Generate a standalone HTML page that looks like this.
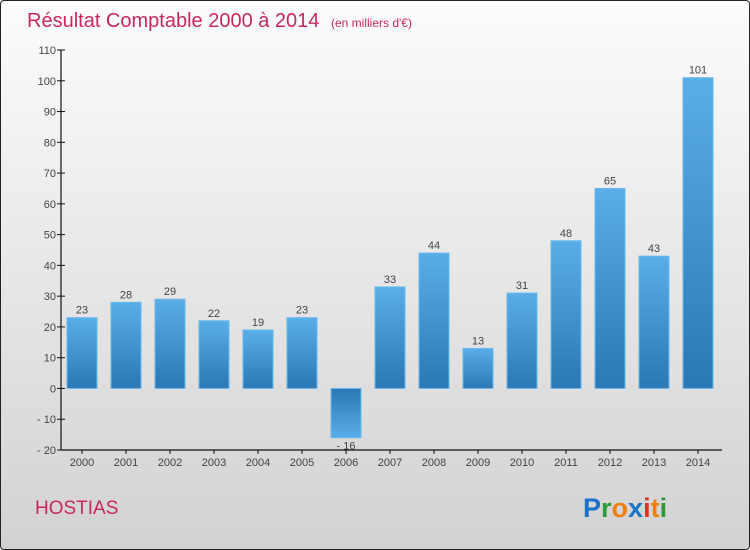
<!DOCTYPE html>
<html><head><meta charset="utf-8"><style>
html,body{margin:0;padding:0;width:750px;height:550px;overflow:hidden}
#wrap{position:absolute;left:0;top:0;width:748px;height:548px;border:1px solid #222;border-radius:4px;background:linear-gradient(#fcfcfc,#d2d2d2)}
svg{position:absolute;left:0;top:0}
text{font-family:"Liberation Sans",sans-serif}
</style></head><body>
<div id="wrap"></div>
<svg id="chart" width="750" height="550">
<defs>
<linearGradient id="gp" x1="0" y1="0" x2="0" y2="1"><stop offset="0" stop-color="#5aaee8"/><stop offset="1" stop-color="#2a78b4"/></linearGradient>
<linearGradient id="gn" x1="0" y1="0" x2="0" y2="1"><stop offset="0" stop-color="#2a78b4"/><stop offset="1" stop-color="#5aaee8"/></linearGradient>
</defs>
<text x="27" y="27" font-size="20" fill="#c8285a">Résultat Comptable 2000 à 2014 <tspan font-size="12" dx="6">(en milliers d'€)</tspan></text>
<text x="35" y="514" font-size="19" fill="#c8285a">HOSTIAS</text>
<g font-size="27" font-weight="bold">
<text x="583" y="517" fill="#1a72c8">P<tspan fill="#2a9a3a">r</tspan><tspan fill="#f08010">o</tspan><tspan fill="#1a72c8">x</tspan><tspan fill="#e03020">i</tspan><tspan fill="#f08010">t</tspan><tspan fill="#2a9a3a">i</tspan></text>
</g>
<g id="axes"></g>
<g id="bars"></g>
</svg>
<script>
const years=["2000","2001","2002","2003","2004","2005","2006","2007","2008","2009","2010","2011","2012","2013","2014"];
const values=[23,28,29,22,19,23,-16,33,44,13,31,48,65,43,101];
const yTicks=[-20,-10,0,10,20,30,40,50,60,70,80,90,100,110];
const NS="http://www.w3.org/2000/svg";
const yMin=-20,yMax=110,plotTop=50,plotBot=450,plotLeft=61,x0=82,step=44,bw=30;
function ys(v){return plotBot-(v-yMin)*(plotBot-plotTop)/(yMax-yMin);}
function xs(i){return x0+i*step;}
function mk(tag,attrs,parent){const e=document.createElementNS(NS,tag);for(const k in attrs)e.setAttribute(k,attrs[k]);parent.appendChild(e);return e;}
const ax=document.getElementById('axes'),bg=document.getElementById('bars');
let l=mk('line',{x1:plotLeft,y1:plotTop,x2:plotLeft,y2:plotBot,stroke:'#111','stroke-width':1.2},ax);


l=mk('line',{x1:plotLeft,y1:plotBot,x2:722,y2:plotBot,stroke:'#111','stroke-width':1.2},ax);


yTicks.forEach(t=>{
 mk('line',{x1:plotLeft-4,y1:ys(t),x2:plotLeft+4,y2:ys(t),stroke:'#111'},ax);
 const tx=mk('text',{x:plotLeft-5,y:ys(t)+4,'font-size':11,fill:'#444','text-anchor':'end'},ax);
 tx.textContent=t<0?('- '+(-t)):t;
 
 
});
years.forEach((yr,i)=>{
 mk('line',{x1:xs(i),y1:plotBot,x2:xs(i),y2:plotBot+4,stroke:'#111'},ax);
 const tx=mk('text',{x:xs(i),y:plotBot+16,'font-size':11,fill:'#444','text-anchor':'middle'},ax);
 tx.textContent=yr;
 
 
 const v=values[i];
 const r=mk('rect',{x:xs(i)-bw/2,y:Math.min(ys(v),ys(0)),width:bw,height:Math.abs(ys(v)-ys(0)),fill:v<0?'url(#gn)':'url(#gp)',stroke:'#6ab8ee','stroke-width':1},bg);
 
 
 const lb=mk('text',{x:xs(i),y:v<0?ys(v)+12:ys(v)-4,'font-size':11,fill:'#444','text-anchor':'middle'},bg);
 lb.textContent=v<0?('- '+(-v)):v;
 
 
});
</script>
</body></html>
